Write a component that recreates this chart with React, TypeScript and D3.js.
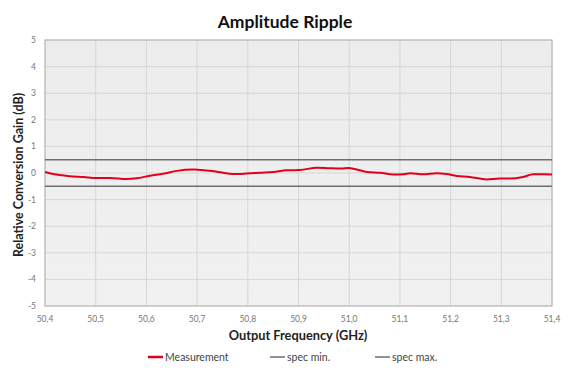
import React from "react";
import * as d3 from "d3";

const freq = [50.4, 50.423, 50.449, 50.476, 50.502, 50.528, 50.561, 50.581, 50.607, 50.633, 50.66, 50.693, 50.719, 50.745, 50.771, 50.798, 50.824, 50.85, 50.877, 50.903, 50.936, 50.962, 50.985, 50.998, 51.015, 51.035, 51.061, 51.087, 51.107, 51.12, 51.146, 51.173, 51.192, 51.212, 51.238, 51.271, 51.297, 51.316, 51.343, 51.363, 51.383, 51.4];
const measurement = [0.04, -0.06, -0.12, -0.15, -0.19, -0.19, -0.23, -0.2, -0.1, -0.03, 0.08, 0.13, 0.09, 0.03, -0.04, -0.02, 0.01, 0.04, 0.1, 0.11, 0.2, 0.18, 0.17, 0.19, 0.13, 0.04, 0.01, -0.06, -0.05, -0.01, -0.05, -0.01, -0.04, -0.11, -0.15, -0.24, -0.21, -0.21, -0.15, -0.05, -0.05, -0.06];
const specMin = -0.5;
const specMax = 0.5;
const xTicks = [50.4, 50.5, 50.6, 50.7, 50.8, 50.9, 51.0, 51.1, 51.2, 51.3, 51.4];
const yTicks = [-5, -4, -3, -2, -1, 0, 1, 2, 3, 4, 5];
const legendItems = ["Measurement", "spec min.", "spec max."];

const W = 568, H = 377;
const L = 45, R = 552, T = 40, B = 306;
const FONT = "Lato, 'Open Sans', sans-serif";

export default function App() {
  const x = d3.scaleLinear().domain([50.4, 51.4]).range([L, R]);
  const y = d3.scaleLinear().domain([-5, 5]).range([B, T]);
  const line = d3.line<number>().x((_, i) => x(freq[i])).y((d) => y(d)).curve(d3.curveMonotoneX);
  const fmtX = (v: number) => v.toFixed(1).replace(".", ",");
  const legendX = [148, 270, 375];
  const legendColors = ["#e2001a", "#6e6e6e", "#6e6e6e"];
  return (
    <svg width={W} height={H} style={{ position: "absolute", left: 0, top: 0, background: "#fff" }}>
      <defs>
        <linearGradient id="bg" x1="0" y1="0" x2="0" y2="1">
          <stop offset="0" stopColor="#ececec" />
          <stop offset="1" stopColor="#f1f1f1" />
        </linearGradient>
      </defs>
      <text x={285} y={28} textAnchor="middle" fontFamily={FONT} fontWeight="bold" fontSize={17.5} fill="#111">Amplitude Ripple</text>
      <rect x={L} y={T} width={R - L} height={B - T} fill="url(#bg)" />
      {xTicks.map((t) => (
        <line key={"gx" + t} x1={x(t)} x2={x(t)} y1={T} y2={B} stroke="#d6d6d6" strokeWidth={1} />
      ))}
      {yTicks.map((t) => (
        <line key={"gy" + t} x1={L} x2={R} y1={y(t)} y2={y(t)} stroke="#d6d6d6" strokeWidth={1} />
      ))}
      <rect x={L} y={T} width={R - L} height={B - T} fill="none" stroke="#b3b3b3" strokeWidth={1} />
      <line x1={L} x2={R} y1={y(specMin)} y2={y(specMin)} stroke="#6e6e6e" strokeWidth={1.5} />
      <line x1={L} x2={R} y1={y(specMax)} y2={y(specMax)} stroke="#6e6e6e" strokeWidth={1.5} />
      <path d={line(measurement) || ""} fill="none" stroke="#e2001a" strokeWidth={2} />
      {yTicks.map((t) => (
        <text key={"ty" + t} x={36} y={y(t) + 3} textAnchor="end" fontFamily={FONT} fontSize={8.5} fill="#777">{t}</text>
      ))}
      {xTicks.map((t) => (
        <text key={"tx" + t} x={x(t)} y={322} textAnchor="middle" fontFamily={FONT} fontSize={8.5} fill="#777">{fmtX(t)}</text>
      ))}
      <text x={298} y={340} textAnchor="middle" fontFamily={FONT} fontWeight="bold" fontSize={12.8} fill="#222">Output Frequency (GHz)</text>
      <text transform={`translate(23,175) rotate(-90)`} textAnchor="middle" fontFamily={FONT} fontWeight="bold" fontSize={12.5} fill="#222">Relative Conversion Gain (dB)</text>
      {legendItems.map((name, i) => (
        <g key={name}>
          <line x1={legendX[i]} x2={legendX[i] + 15} y1={357} y2={357} stroke={legendColors[i]} strokeWidth={i === 0 ? 2.5 : 1.5} />
          <text x={legendX[i] + 17} y={360.5} fontFamily={FONT} fontSize={10.5} fill="#444">{name}</text>
        </g>
      ))}
    </svg>
  );
}
